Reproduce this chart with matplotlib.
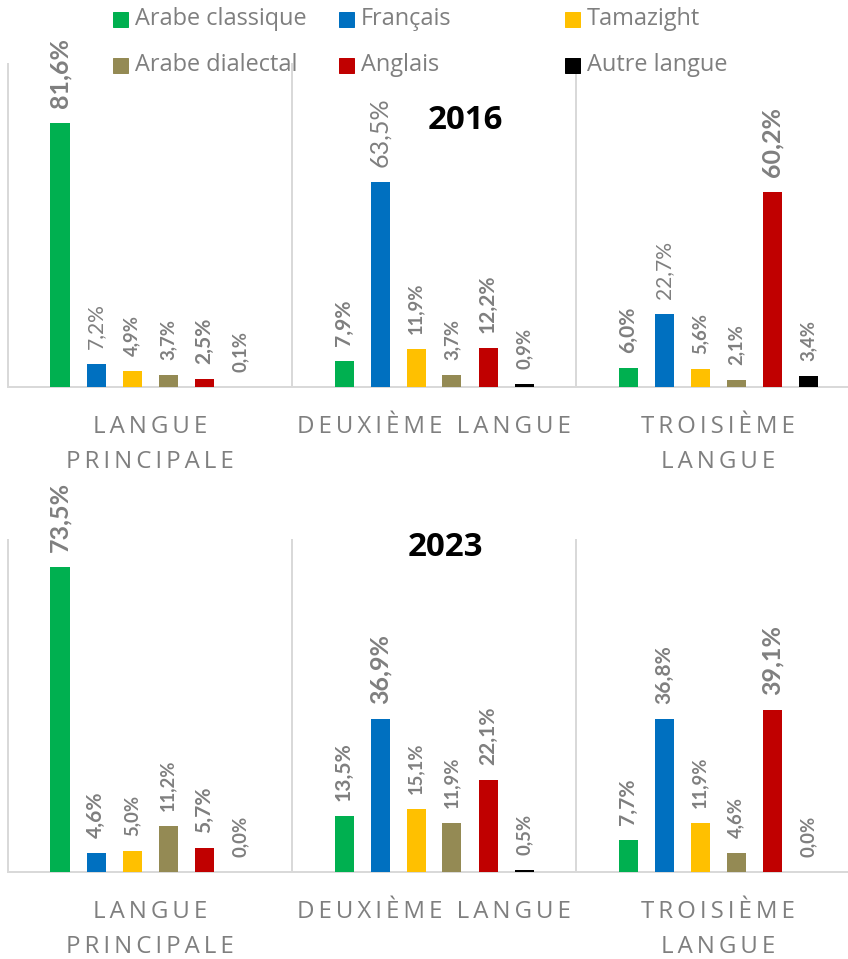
import matplotlib.pyplot as plt
from matplotlib.patches import Rectangle
import numpy as np

# data
langues = ["Arabe classique", "Français", "Tamazight",
           "Arabe dialectal", "Anglais", "Autre langue"]
categories = ["LANGUE\nPRINCIPALE", "DEUXIÈME LANGUE", "TROISIÈME\nLANGUE"]
vals_2016 = [[81.6, 7.2, 4.9, 3.7, 2.5, 0.1],
             [7.9, 63.5, 11.9, 3.7, 12.2, 0.9],
             [6.0, 22.7, 5.6, 2.1, 60.2, 3.4]]
vals_2023 = [[73.5, 4.6, 5.0, 11.2, 5.7, 0.0],
             [13.5, 36.9, 15.1, 11.9, 22.1, 0.5],
             [7.7, 36.8, 11.9, 4.6, 39.1, 0.0]]

colors = ["#00B050", "#0070C0", "#FFC000", "#948A54", "#C00000", "#000000"]
gray = "#7f7f7f"
sep = "#d9d9d9"

# label sizes (px), dpi 72 so pt == px
L, M, S = 25, 21, 18.5
label_sizes = [[L, M, S, S, M, S],
               [M, L, S, S, M, S],
               [M, M, S, S, L, S]]

W, H = 848, 959
fig = plt.figure(figsize=(W / 72, H / 72), dpi=72)
fig.patch.set_facecolor("white")


def spaced(s):
    return "\u2009".join(s)


def panel(top, base, ymax, vals, normal_blue):
    ax = fig.add_axes([8 / W, (H - base) / H, 852 / W, (base - top) / H])
    ax.set_xlim(-0.5, 2.5)
    ax.set_ylim(0, ymax)
    ax.axis("off")
    step = 36 / 284
    for g in range(3):
        for k in range(6):
            x = g + (k - 2.5) * step
            v = vals[g][k]
            ax.bar(x, v, width=19 / 284, color=colors[k], zorder=3)
            bold = not (normal_blue and k == 1)
            ax.annotate(f"{v:.1f}%".replace(".", ","), (x, v),
                        xytext=(0, 15), textcoords="offset points",
                        rotation=90, ha="center", va="bottom",
                        fontsize=label_sizes[g][k], color=gray,
                        fontweight="bold" if bold else "normal",
                        family=["Lato", "DejaVu Sans"])
        # category labels
        lines = categories[g].split("\n")
        for i, line in enumerate(lines):
            ax.annotate(spaced(line), (g, 0), xytext=(0, -40 - 35 * i),
                        textcoords="offset points", ha="center", va="center",
                        fontsize=24, color=gray,
                        family=["Open Sans", "DejaVu Sans"])
    for xb in [-0.5, 0.5, 1.5, 2.5]:
        ax.plot([xb, xb], [0, ymax], color=sep, lw=2, zorder=1, clip_on=False)
    ax.plot([-0.5, 2.5], [0, 0], color=sep, lw=2, zorder=1, clip_on=False)
    return ax


panel(63.5, 387, 100, vals_2016, True)
panel(540, 872, 80, vals_2023, False)

fig.text(465 / W, 1 - 120 / H, "2016", ha="center", va="center",
         fontsize=33, fontweight="bold", color="black",
         family=["Open Sans", "DejaVu Sans"])
fig.text(445 / W, 1 - 548 / H, "2023", ha="center", va="center",
         fontsize=33, fontweight="bold", color="black",
         family=["Open Sans", "DejaVu Sans"])

# legend (3 columns x 2 rows)
col_x = [113, 339, 565]
row_y = [19, 65]
for i, name in enumerate(langues):
    r, c = divmod(i, 3)
    x0, y0 = col_x[c], row_y[r]
    fig.add_artist(Rectangle((x0 / W, (H - y0 - 7.5) / H), 15 / W, 15 / H,
                             transform=fig.transFigure, color=colors[i]))
    fig.text((x0 + 22) / W, 1 - y0 / H, name, ha="left", va="center",
             fontsize=23.5, color=gray, family=["Open Sans", "DejaVu Sans"])

fig.savefig("out.png", dpi=72, facecolor="white")
